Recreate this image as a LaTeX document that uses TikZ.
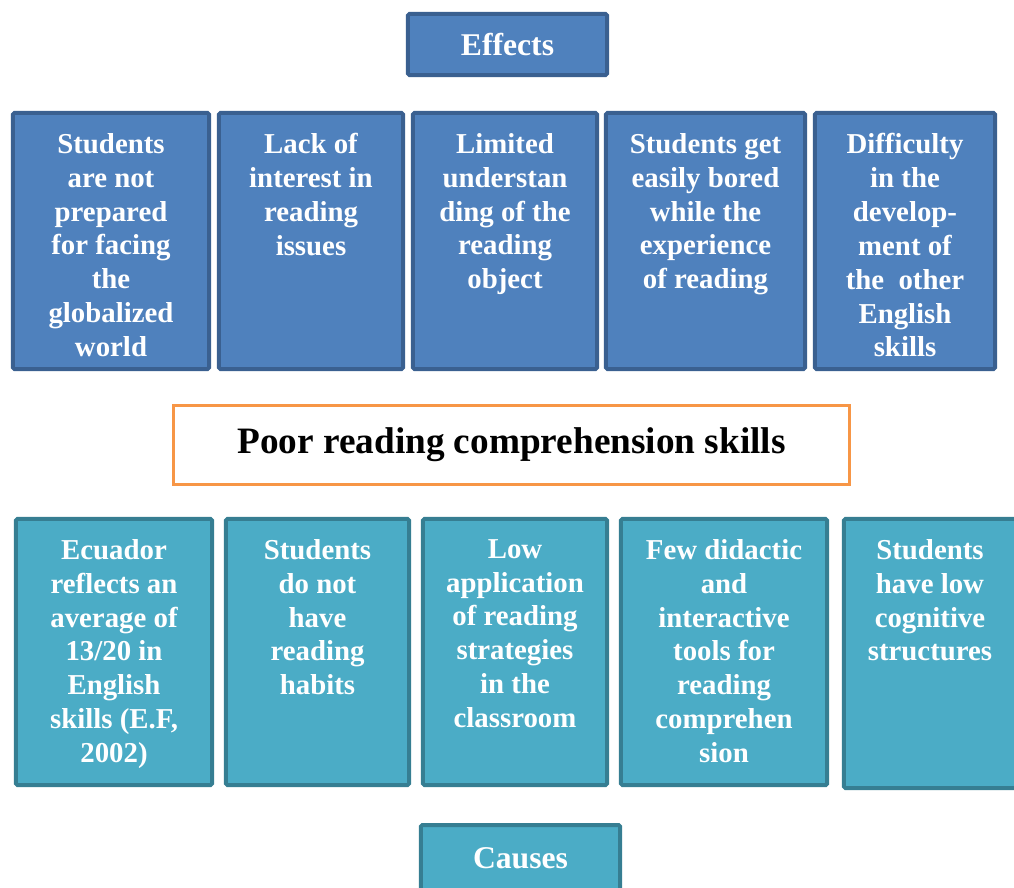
\documentclass[tikz,border=0pt]{standalone}
\usepackage{fontspec}
\setmainfont{Liberation Serif}
\definecolor{effectfill}{HTML}{4F81BD}
\definecolor{effectline}{HTML}{3A6090}
\definecolor{causefill}{HTML}{4BACC6}
\definecolor{causeline}{HTML}{367E92}
\definecolor{problemline}{HTML}{F79646}
\begin{document}
\begin{tikzpicture}[x=0.025cm, y=-0.025cm,
            effect/.style={rectangle, rounded corners=1pt, fill=effectfill, draw=effectline, line width=0.1cm},
            cause/.style={rectangle, rounded corners=1pt, fill=causefill, draw=causeline, line width=0.1cm},
            effectrow/.style={effect, minimum height=6.4cm},
            causerow/.style={cause, minimum height=6.65cm},
            title/.style={text=white, font=\bfseries\fontsize{22.5}{26}\selectfont},
            celltext/.style={text=white, font=\bfseries\fontsize{20.5}{24.1}\selectfont, align=center, anchor=north, inner sep=0pt},
        ]
            \useasboundingbox (0,0) rectangle (1014,888);
            % effects
            \node(effects) at (507.5,44.5) [effect, title, minimum width=4.975cm, minimum height=1.525cm] {Effects};
            \node(e1) at (111,241) [effectrow, minimum width=4.9cm] {};
            \node(e2) at (311,241) [effectrow, minimum width=4.6cm] {};
            \node(e3) at (505,241) [effectrow, minimum width=4.6cm] {};
            \node(e4) at (705.5,241) [effectrow, minimum width=4.975cm] {};
            \node(e5) at (905,241) [effectrow, minimum width=4.5cm] {};
            \node[celltext](e1text) at ([yshift=-0.55cm]e1.north) {Students\\are not\\prepared\\for facing\\the\\globalized\\world};
            \node[celltext](e2text) at ([yshift=-0.55cm]e2.north) {Lack of\\interest in\\reading\\issues};
            \node[celltext](e3text) at ([yshift=-0.55cm]e3.north) {Limited\\understan\\ding of the\\reading\\object};
            \node[celltext](e4text) at ([yshift=-0.55cm]e4.north) {Students get\\easily bored\\while the\\experience\\of reading};
            \node[celltext](e5text) at ([yshift=-0.55cm]e5.north) {Difficulty\\in the\\develop-\\ment of\\the\ \ other\\English\\skills};
            % problem
            \node(problem) at (511.5,445) [rectangle, fill=white, draw=problemline, line width=0.075cm, minimum width=16.9cm, minimum height=1.975cm, font=\bfseries\fontsize{26.5}{30}\selectfont] {Poor reading comprehension skills};
            % causes
            \node(c1) at (114,652) [causerow, minimum width=4.9cm] {};
            \node(c2) at (317.5,652) [causerow, minimum width=4.575cm] {};
            \node(c3) at (515,652) [causerow, minimum width=4.6cm] {};
            \node(c4) at (724,652) [causerow, minimum width=5.15cm] {};
            \node(c5) at (930,653.5) [cause, minimum width=4.3cm, minimum height=6.725cm] {};
            \node[celltext](c1text) at ([yshift=-0.55cm]c1.north) {Ecuador\\reflects an\\average of\\13/20 in\\English\\skills (E.F,\\2002)};
            \node[celltext](c2text) at ([yshift=-0.55cm]c2.north) {Students\\do not\\have\\reading\\habits};
            \node[celltext](c3text) at ([yshift=-0.55cm]c3.north) {Low\\application\\of reading\\strategies\\in the\\classroom};
            \node[celltext](c4text) at ([yshift=-0.55cm]c4.north) {Few didactic\\and\\interactive\\tools for\\reading\\comprehen\\sion};
            \node[celltext](c5text) at ([yshift=-0.55cm]c5.north) {Students\\have low\\cognitive\\structures};
            \node(causes) at (520.5,858) [cause, title, minimum width=4.975cm, minimum height=1.65cm] {Causes};
        \end{tikzpicture}
\end{document}
